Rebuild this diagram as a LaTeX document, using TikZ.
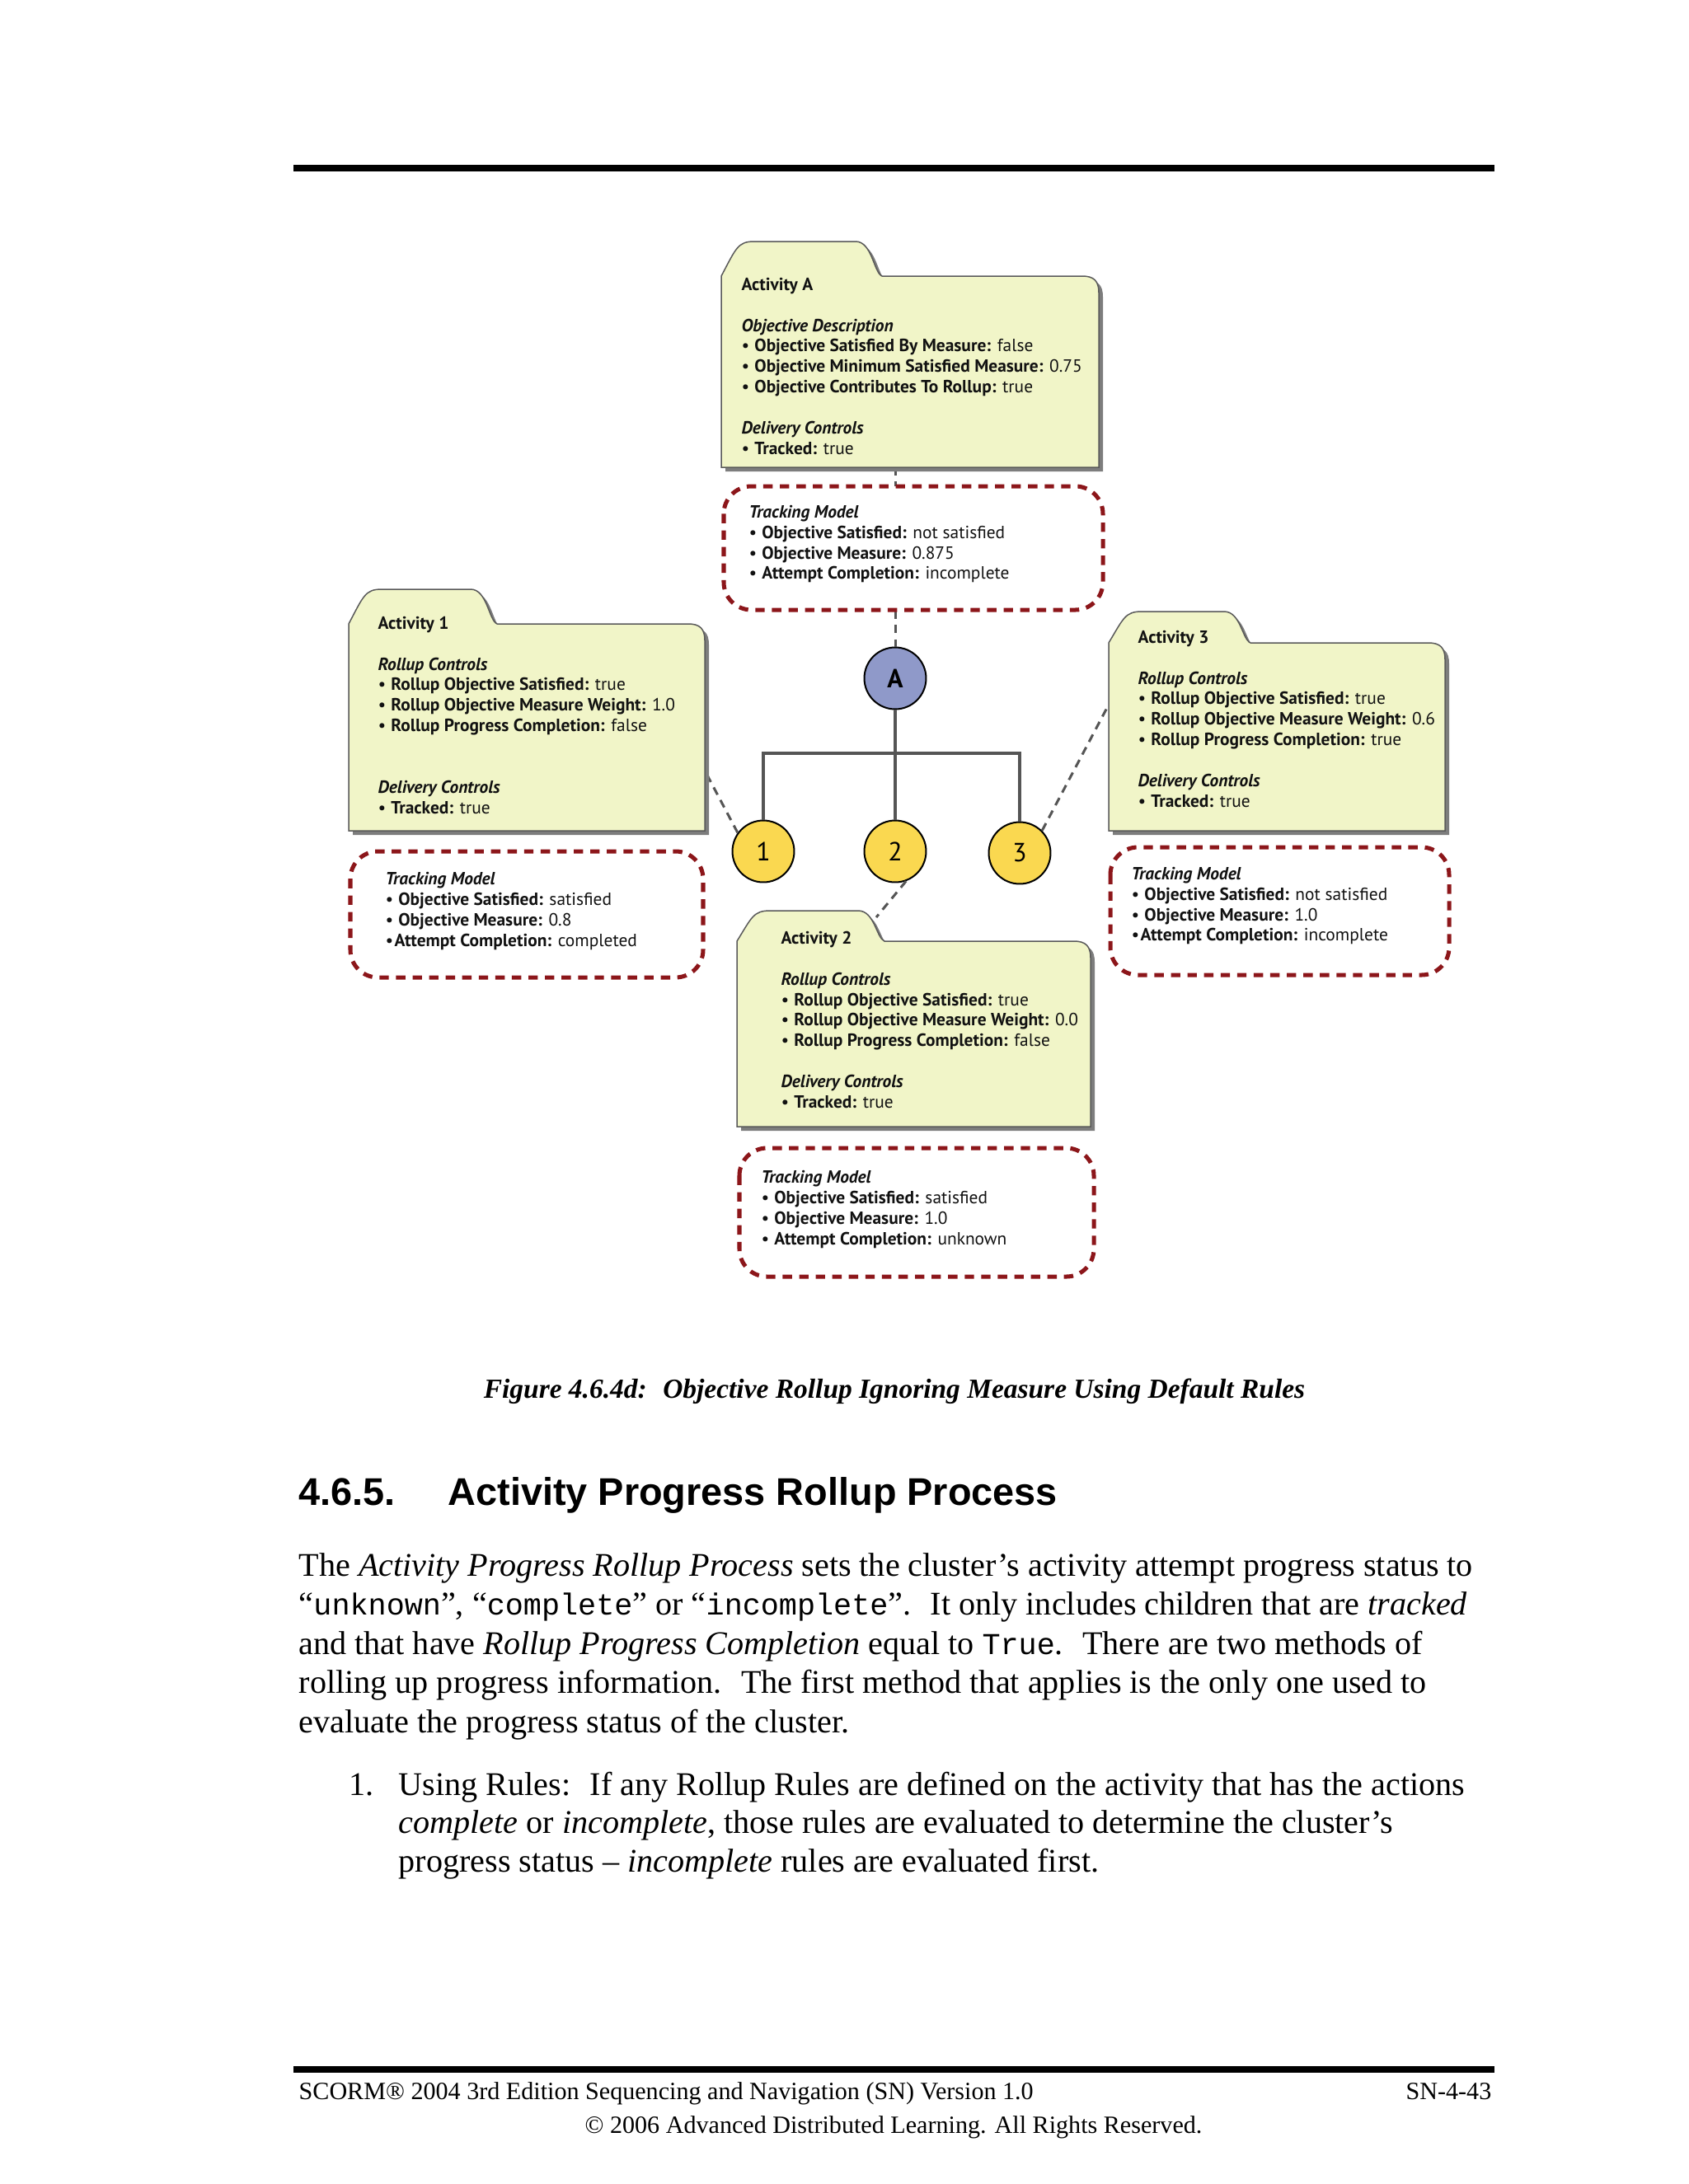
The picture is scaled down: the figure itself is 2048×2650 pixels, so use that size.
\documentclass[tikz,border=0pt]{standalone}
\usepackage{fontspec}
\setmainfont{Liberation Serif}
\setmonofont{Liberation Mono}
\newfontfamily\hsans{Liberation Sans}
\newfontfamily\dgm{PT Sans}
\usetikzlibrary{calc}
\definecolor{foldfill}{RGB}{241,245,200}
\definecolor{foldline}{RGB}{90,90,90}
\definecolor{shadowc}{RGB}{125,125,125}
\definecolor{trackred}{RGB}{140,22,26}
\definecolor{nodeblue}{RGB}{143,153,201}
\definecolor{nodeyellow}{RGB}{250,216,80}
\definecolor{treegray}{RGB}{85,85,85}
\definecolor{ink}{RGB}{17,17,17}
\newcommand\bu{\makebox[4.7pt][l]{•}}
\newcommand\bus{\makebox[3.3pt][l]{•}}
\newcommand\mono[1]{{\fontsize{11}{12}\selectfont\ttfamily #1}}
\newcommand\blk[2]{\vtop{\baselineskip=#1\lineskiplimit=-20pt\lineskip=0pt #2}}
% options, L, Tb, R, B, tabEnd, tabTop
\newcommand\foldshape[7]{%
  \path[#1] (#2,#5) -- (#2,#3) .. controls ({#2+18},{#7+8}) and ({#2+20},#7) .. ({#2+40},#7)
    -- ({#6-32},#7) .. controls ({#6-12},#7) and ({#6-10},{#3-4}) .. (#6,#3)
    -- ({#4-20},#3) .. controls ({#4-6},#3) and (#4,{#3+6}) .. (#4,{#3+20})
    -- (#4,#5) -- cycle;}
\newcommand\folder[7]{%
  \coordinate (#1-nw) at (#2,#3);
  \coordinate (#1-se) at (#4,#5);
  \foldshape{fill=shadowc, shift={(5,5)}}{#2}{#3}{#4}{#5}{#6}{#7}
  \foldshape{fill=foldfill, draw=foldline, line width=0.45pt}{#2}{#3}{#4}{#5}{#6}{#7}}
\newcommand\trackbox[5]{%
  \coordinate (#1-nw) at (#2,#3);
  \coordinate (#1-se) at (#4,#5);
  \draw[track] (#1-nw) rectangle (#1-se);}
\tikzset{
  dtext/.style={anchor=base west, inner sep=0, text=ink, font=\dgm\fontsize{6.4}{7.47}\selectfont},
  track/.style={draw=trackred, fill=white, line width=1.5pt, dash pattern=on 3.4pt off 2.6pt, rounded corners=10pt},
  link/.style={draw=treegray, line width=0.9pt, dash pattern=on 3pt off 2.2pt},
  tree/.style={draw=treegray, line width=1pt},
  circ/.style={circle, draw=black, line width=0.6pt, minimum size=22.4pt, inner sep=0, text=black, font=\dgm\fontsize{9.5}{10}\selectfont},
  ptext/.style={anchor=base west, inner sep=0, text=black}
}
\begin{document}
\begin{tikzpicture}[x=0.29887pt,y=-0.29887pt]
\fill[white] (0,0) rectangle (2048,2650);
\useasboundingbox (0,0) rectangle (2048,2650);
% page rules
\fill[black] (356,200) rectangle (1813,208);
\fill[black] (356,2507) rectangle (1813,2515);

% tree nodes
\node[circ, fill=nodeblue] (nA) at (1086,823) {\bfseries A};
\node[circ, fill=nodeyellow] (n1) at (926,1033) {1};
\node[circ, fill=nodeyellow] (n2) at (1086,1033) {2};
\node[circ, fill=nodeyellow] (n3) at (1237,1035) {3};
\coordinate (bar) at (1086,914);

% anchor points on folders
\coordinate (fA-b) at (1086,567);
\coordinate (f1-c) at (855,935);
\coordinate (f3-c) at (1345,855);
\coordinate (f2-c) at (1063,1113);

% dashed links (behind boxes)
\draw[link] (fA-b) -- (nA.north);
\draw[link] (n1.144) -- (f1-c);
\draw[link] (n3.45) -- (f3-c);
\draw[link] (n2.-70) -- (f2-c);

% tree lines
\draw[tree] (nA.south) -- (bar) -| (n1.north);
\draw[tree] (bar) -| (n3.north);
\draw[tree] (bar) -- (n2.north);

% folders
\folder{fA}{875}{335}{1333}{567}{1070}{293}
\folder{f1}{423}{757}{855}{1008}{603}{715}
\folder{f3}{1345}{780}{1753}{1008}{1517}{742}
\folder{f2}{894}{1142}{1323}{1367}{1073}{1105}

% tracking boxes
\trackbox{tA}{878}{590}{1338}{740}
\trackbox{t1}{425}{1033}{853}{1186}
\trackbox{t3}{1347}{1028}{1758}{1183}
\trackbox{t2}{897}{1393}{1327}{1549}

% folder texts
\node[dtext] (txA) at (899,352) {\blk{7.47pt}{%
  \hbox{\bfseries Activity A}\hbox{}%
  \hbox{\bfseries\itshape Objective Description}%
  \hbox{\bu\textbf{Objective Satisfied By Measure:} false}%
  \hbox{\bu\textbf{Objective Minimum Satisfied Measure:} 0.75}%
  \hbox{\bu\textbf{Objective Contributes To Rollup:} true}\hbox{}%
  \hbox{\bfseries\itshape Delivery Controls}%
  \hbox{\bu\textbf{Tracked:} true}}};
\node[dtext] (tx1) at (458,763) {\blk{7.47pt}{%
  \hbox{\bfseries Activity 1}\hbox{}%
  \hbox{\bfseries\itshape Rollup Controls}%
  \hbox{\bu\textbf{Rollup Objective Satisfied:} true}%
  \hbox{\bu\textbf{Rollup Objective Measure Weight:} 1.0}%
  \hbox{\bu\textbf{Rollup Progress Completion:} false}\hbox{}\hbox{}%
  \hbox{\bfseries\itshape Delivery Controls}%
  \hbox{\bu\textbf{Tracked:} true}}};
\node[dtext] (tx3) at (1380,780) {\blk{7.47pt}{%
  \hbox{\bfseries Activity 3}\hbox{}%
  \hbox{\bfseries\itshape Rollup Controls}%
  \hbox{\bu\textbf{Rollup Objective Satisfied:} true}%
  \hbox{\bu\textbf{Rollup Objective Measure Weight:} 0.6}%
  \hbox{\bu\textbf{Rollup Progress Completion:} true}\hbox{}%
  \hbox{\bfseries\itshape Delivery Controls}%
  \hbox{\bu\textbf{Tracked:} true}}};
\node[dtext] (tx2) at (947,1145) {\blk{7.47pt}{%
  \hbox{\bfseries Activity 2}\hbox{}%
  \hbox{\bfseries\itshape Rollup Controls}%
  \hbox{\bu\textbf{Rollup Objective Satisfied:} true}%
  \hbox{\bu\textbf{Rollup Objective Measure Weight:} 0.0}%
  \hbox{\bu\textbf{Rollup Progress Completion:} false}\hbox{}%
  \hbox{\bfseries\itshape Delivery Controls}%
  \hbox{\bu\textbf{Tracked:} true}}};

% tracking texts
\node[dtext] (ttA) at (908,628) {\blk{7.47pt}{%
  \hbox{\bfseries\itshape Tracking Model}%
  \hbox{\bu\textbf{Objective Satisfied:} not satisfied}%
  \hbox{\bu\textbf{Objective Measure:} 0.875}%
  \hbox{\bu\textbf{Attempt Completion:} incomplete}}};
\node[dtext] (tt1) at (467,1073) {\blk{7.47pt}{%
  \hbox{\bfseries\itshape Tracking Model}%
  \hbox{\bu\textbf{Objective Satisfied:} satisfied}%
  \hbox{\bu\textbf{Objective Measure:} 0.8}%
  \hbox{\bus\textbf{Attempt Completion:} completed}}};
\node[dtext] (tt3) at (1372,1067) {\blk{7.47pt}{%
  \hbox{\bfseries\itshape Tracking Model}%
  \hbox{\bu\textbf{Objective Satisfied:} not satisfied}%
  \hbox{\bu\textbf{Objective Measure:} 1.0}%
  \hbox{\bus\textbf{Attempt Completion:} incomplete}}};
\node[dtext] (tt2) at (923,1435) {\blk{7.47pt}{%
  \hbox{\bfseries\itshape Tracking Model}%
  \hbox{\bu\textbf{Objective Satisfied:} satisfied}%
  \hbox{\bu\textbf{Objective Measure:} 1.0}%
  \hbox{\bu\textbf{Attempt Completion:} unknown}}};

% caption
\node[anchor=base, inner sep=0, font=\fontsize{10}{12}\selectfont\bfseries\itshape] (cap) at (1085,1696)
  {Figure 4.6.4d: \ Objective Rollup Ignoring Measure Using Default Rules};

% heading
\node[ptext, font=\hsans\fontsize{14}{16}\selectfont\bfseries] (hnum) at (362,1826) {4.6.5.};
\node[ptext, font=\hsans\fontsize{14}{16}\selectfont\bfseries] (htitle) at (543,1826) {Activity Progress Rollup Process};

% body
\node[ptext, font=\fontsize{12}{14.2}\selectfont] (body) at (362,1912) {\blk{14.2pt}{%
  \hbox{The \textit{Activity Progress Rollup Process} sets the cluster’s activity attempt progress status to}%
  \hbox{“\mono{unknown}”, “\mono{complete}” or “\mono{incomplete}”. \ It only includes children that are \textit{tracked}}%
  \hbox{and that have \textit{Rollup Progress Completion} equal to \mono{True}. \ There are two methods of}%
  \hbox{rolling up progress information. \ The first method that applies is the only one used to}%
  \hbox{evaluate the progress status of the cluster.}}};

\node[ptext, font=\fontsize{12}{14.2}\selectfont] (item1n) at (423,2178) {1.};
\node[ptext, font=\fontsize{12}{14.2}\selectfont] (item1) at (483,2178) {\blk{14.0pt}{%
  \hbox{Using Rules: \ If any Rollup Rules are defined on the activity that has the actions}%
  \hbox{\textit{complete} or \textit{incomplete}, those rules are evaluated to determine the cluster’s}%
  \hbox{progress status – \textit{incomplete} rules are evaluated first.}}};

% footer
\node[ptext, font=\fontsize{9}{11}\selectfont] (foot1) at (362,2547) {SCORM® 2004 3rd Edition Sequencing and Navigation (SN) Version 1.0};
\node[anchor=base east, inner sep=0, font=\fontsize{9}{11}\selectfont] (foot2) at (1810,2547) {SN-4-43};
\node[anchor=base, inner sep=0, font=\fontsize{9}{11}\selectfont] (foot3) at (1084,2588) {© 2006 Advanced Distributed Learning. All Rights Reserved.};
\end{tikzpicture}
\end{document}
